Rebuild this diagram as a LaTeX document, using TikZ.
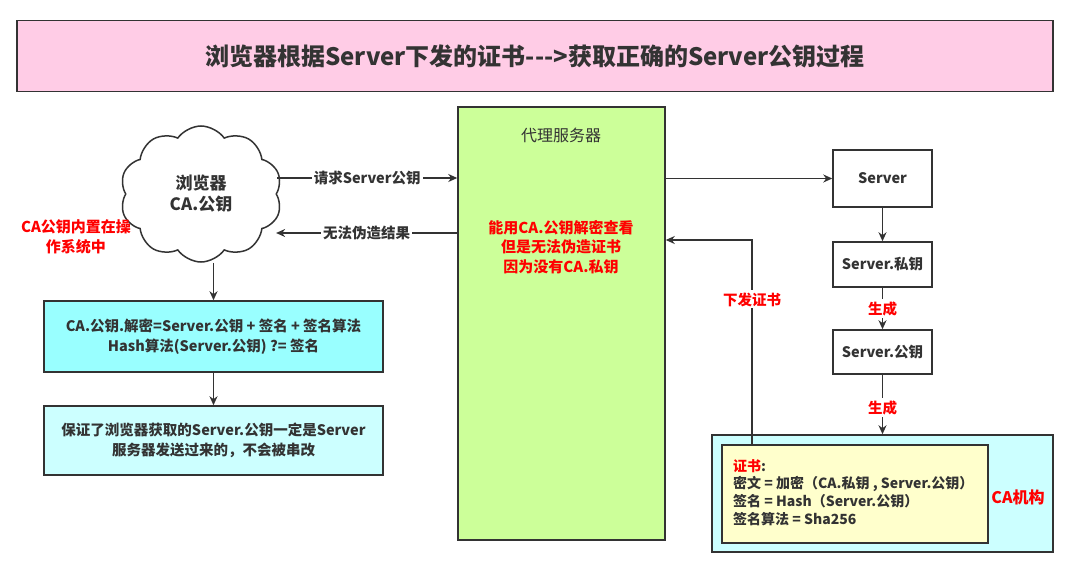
\documentclass[tikz,border=0pt]{standalone}
\usepackage{fontspec}
\setmainfont{Noto Sans CJK SC}
\usetikzlibrary{shapes.symbols,arrows.meta,calc}
\definecolor{linec}{HTML}{333333}
\definecolor{titlefill}{HTML}{FFCCE6}
\definecolor{cyanA}{HTML}{99FFFF}
\definecolor{cyanB}{HTML}{CCFFFF}
\definecolor{greenA}{HTML}{CCFF99}
\definecolor{yellowA}{HTML}{FFFFCC}
\definecolor{redT}{HTML}{FF0000}
\tikzset{
  boxst/.style={draw=linec, line width=1.5pt, align=center, inner sep=0pt, text=linec, font=\fontsize{14.5}{20}\selectfont\bfseries},
  arr/.style={-{Stealth[length=9pt,width=8pt]}, line width=1.5pt, draw=linec},
  lbl/.style={fill=white, inner sep=2pt, text=linec, font=\fontsize{14.5}{16}\selectfont\bfseries},
  redlbl/.style={fill=white, inner sep=2pt, text=redT, font=\fontsize{14.5}{16}\selectfont\bfseries},
}
\begin{document}
\begin{tikzpicture}[x=1pt,y=-1pt]
\useasboundingbox[fill=white] (0,0) rectangle (1066,565);
% title
\node[boxst, fill=titlefill, minimum width=1036, minimum height=71, font=\fontsize{24}{28}\selectfont\bfseries] (title) at (535,56) {浏览器根据Server下发的证书-{}-{}->获取正确的Server公钥过程};
% cloud
\node[cloud, draw=linec, line width=1.5pt, fill=white, cloud puffs=10, cloud puff arc=110, aspect=1.2, minimum width=162, minimum height=136, align=center, inner sep=0pt, text=linec, font=\fontsize{17}{21}\selectfont\bfseries] (cloud) at (201,194) {浏览器\\CA.公钥};
\node[text=redT, align=center, font=\fontsize{15}{20}\selectfont\bfseries] (osnote) at (76,237) {CA公钥内置在操\\作系统中};
% left boxes
\node[boxst, fill=cyanA, minimum width=339, minimum height=71] (b1) at (213.5,336.5) {CA.公钥.解密=Server.公钥 + 签名 + 签名算法\\Hash算法(Server.公钥) ?= 签名};
\node[boxst, fill=cyanB, minimum width=339, minimum height=69] (b2) at (213.5,440.5) {保证了浏览器获取的Server.公钥一定是Server\\服务器发送过来的，不会被串改};
% proxy
\node[boxst, fill=greenA, minimum width=207, minimum height=433] (proxy) at (561.5,323.5) {};
\node[text=linec, font=\fontsize{16}{20}\selectfont] (ptitle) at (561,135) {代理服务器};
\node[text=redT, align=center, font=\fontsize{15}{19.5}\selectfont\bfseries] (pnote) at (561,247) {能用CA.公钥解密查看\\但是无法伪造证书\\因为没有CA.私钥};
% right column
\node[boxst, fill=white, minimum width=99, minimum height=57] (server) at (882.5,178.5) {Server};
\node[boxst, fill=white, minimum width=99, minimum height=45] (priv) at (882.5,264.5) {Server.私钥};
\node[boxst, fill=white, minimum width=99, minimum height=44] (pub) at (882.5,352) {Server.公钥};
\node[boxst, fill=cyanB, minimum width=341, minimum height=117] (ca) at (882.5,493.5) {};
\node[text=redT, font=\fontsize{16}{20}\selectfont\bfseries] (calbl) at (1018,497) {CA机构};
\node[boxst, fill=yellowA, minimum width=266, minimum height=98] (cert) at (855,494) {};
\node[anchor=north west, align=left, inner sep=0pt, text=linec, font=\fontsize{14}{17.8}\selectfont\bfseries] (certtxt) at (733,459) {\textcolor{redT}{证书}:\\密文 = 加密（CA.私钥 , Server.公钥）\\签名 = Hash（Server.公钥）\\签名算法 = Sha256};
% connectors
\coordinate (reqS) at ($(cloud.east)+(0,-16)$);
\coordinate (resT) at ($(cloud.east)+(-1,39)$);
\draw[arr] (reqS) -- node[lbl]{请求Server公钥} (reqS -| proxy.west);
\draw[arr] (resT -| proxy.west) -- node[lbl]{无法伪造结果} (resT);
\draw[arr] (cloud.south -| b1.north) -- (b1.north);
\draw[arr] (b1.south) -- (b2.north);
\draw[arr] (proxy.east |- server.west) -- (server.west);
\draw[arr] (server.south) -- (priv.north);
\draw[arr] (priv.south) -- node[redlbl]{生成} (pub.north);
\draw[arr] (pub.south) -- node[redlbl, pos=0.55]{生成} (pub.south |- ca.north);
\coordinate (certTop) at (752,445);
\coordinate (certTurn) at (752,240);
\draw[arr] (certTop) -- node[redlbl, pos=0.71]{下发证书} (certTurn) -- (certTurn -| proxy.east);
\end{tikzpicture}
\end{document}
